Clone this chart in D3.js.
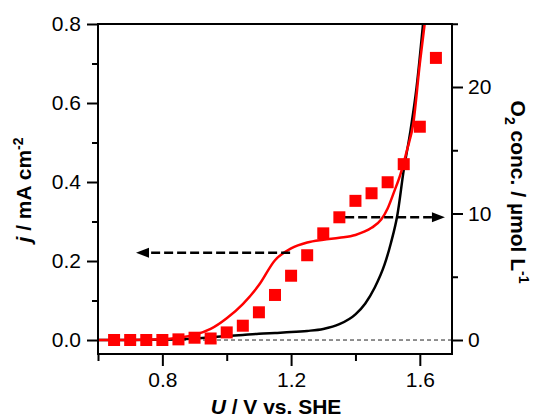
<!DOCTYPE html>
<html>
<head>
<meta charset="utf-8">
<script src="https://cdn.jsdelivr.net/npm/d3@7"></script>
<style>
  html, body { margin: 0; padding: 0; background: #fff; }
  svg { display: block; }
  text { font-family: "Liberation Sans", Arial, Helvetica, sans-serif; fill: #000; }
</style>
</head>
<body>
<svg id="chart" width="536" height="420"></svg>
<script>
// ---- data ----
// Black curve (current density, left axis)
const blackU = [0.60, 0.70, 0.80, 0.85, 0.90, 0.95, 1.00, 1.05, 1.10, 1.15, 1.20, 1.25, 1.30, 1.35, 1.40, 1.43, 1.46, 1.49, 1.51, 1.53, 1.55, 1.57, 1.59, 1.61];
const blackJ = [0.000, 0.000, 0.001, 0.002, 0.004, 0.007, 0.010, 0.013, 0.016, 0.018, 0.020, 0.023, 0.028, 0.040, 0.065, 0.092, 0.133, 0.190, 0.245, 0.315, 0.430, 0.525, 0.640, 0.800];
// Red curve (current density, left axis)
const redU = [0.60, 0.70, 0.80, 0.85, 0.90, 0.95, 1.00, 1.05, 1.10, 1.15, 1.20, 1.25, 1.30, 1.35, 1.40, 1.45, 1.48, 1.50, 1.52, 1.54, 1.56, 1.58, 1.60, 1.615];
const redJ = [0.000, 0.000, 0.002, 0.006, 0.013, 0.028, 0.055, 0.091, 0.139, 0.202, 0.232, 0.247, 0.254, 0.259, 0.266, 0.284, 0.305, 0.333, 0.375, 0.420, 0.480, 0.550, 0.700, 0.800];
// Red squares (O2 concentration, right axis)
const o2U = [0.65, 0.70, 0.75, 0.80, 0.85, 0.90, 0.95, 1.00, 1.05, 1.10, 1.15, 1.20, 1.25, 1.30, 1.35, 1.40, 1.45, 1.50, 1.55, 1.60, 1.65];
const o2C = [0.0, 0.0, 0.0, 0.0, 0.05, 0.18, 0.12, 0.6, 1.13, 2.19, 3.56, 5.08, 6.70, 8.43, 9.70, 11.0, 11.6, 12.47, 13.9, 16.86, 22.3];
// Tick values
const xMajor = [0.8, 1.2, 1.6];
const xMinor = [0.6, 1.0, 1.4];
const yMajor = [0.0, 0.2, 0.4, 0.6, 0.8];
const yMinor = [0.1, 0.3, 0.5, 0.7];
const y2Major = [0, 10, 20];
const y2Minor = [5, 15, 25];
// Annotation arrows (data units)
const arrowLeftU = [1.197, 0.718];   const arrowLeftJ = 0.221;
const arrowRightU = [1.368, 1.678];  const arrowRightC = 9.7;

// ---- layout ----
const svg = d3.select("#chart");
const L = 98, R = 452, T = 24, B = 354;

const x = d3.scaleLinear().domain([0.6, 1.7]).range([L, R]);
const y = d3.scaleLinear().domain([-0.0354, 0.8]).range([B, T]);
const y2 = d3.scaleLinear().domain([-1.107, 24.98]).range([B, T]);

const FONT = 21;

// clip
svg.append("defs").append("clipPath").attr("id", "clip")
  .append("rect").attr("x", L).attr("y", T).attr("width", R - L).attr("height", B - T);

// zero dashed line
svg.append("line")
  .attr("x1", L).attr("x2", R).attr("y1", y(0)).attr("y2", y(0))
  .attr("stroke", "#222").attr("stroke-width", 1).attr("stroke-dasharray", "4,3");

const plot = svg.append("g").attr("clip-path", "url(#clip)");

const line = d3.line().curve(d3.curveMonotoneX);

plot.append("path")
  .attr("d", line(blackU.map((u, i) => [x(u), y(blackJ[i])])))
  .attr("fill", "none").attr("stroke", "#000").attr("stroke-width", 2.5);

plot.append("path")
  .attr("d", line(redU.map((u, i) => [x(u), y(redJ[i])])))
  .attr("fill", "none").attr("stroke", "#ff0000").attr("stroke-width", 2.5);

// squares
const S = 12;
svg.append("g").selectAll("rect").data(o2U).join("rect")
  .attr("x", (d) => x(d) - S / 2)
  .attr("y", (d, i) => y2(o2C[i]) - S / 2)
  .attr("width", S).attr("height", S)
  .attr("fill", "#ff0000");

// arrows
function dashedArrow(x1, x2, yy) {
  const dir = Math.sign(x2 - x1);
  const head = 13, hw = 5;
  svg.append("line")
    .attr("x1", x1).attr("x2", x2 - dir * head).attr("y1", yy).attr("y2", yy)
    .attr("stroke", "#000").attr("stroke-width", 2.5).attr("stroke-dasharray", "9,4");
  svg.append("path")
    .attr("d", `M${x2},${yy} L${x2 - dir * head},${yy - hw} L${x2 - dir * head},${yy + hw} Z`)
    .attr("fill", "#000");
}
dashedArrow(x(arrowLeftU[0]), x(arrowLeftU[1]), y(arrowLeftJ));
dashedArrow(x(arrowRightU[0]), x(arrowRightU[1]), y2(arrowRightC));

// frame
svg.append("rect").attr("x", L).attr("y", T).attr("width", R - L).attr("height", B - T)
  .attr("fill", "none").attr("stroke", "#000").attr("stroke-width", 2);

function styleAxis(g) {
  g.select(".domain").remove();
  g.selectAll(".tick line").attr("stroke", "#000").attr("stroke-width", 2);
  g.selectAll(".tick text").attr("font-size", FONT).attr("font-family", "Liberation Sans, Arial, sans-serif").attr("fill", "#000");
}

// bottom axis
svg.append("g").attr("transform", `translate(0,${B})`)
  .call(d3.axisBottom(x).tickValues(xMajor).tickFormat(d3.format(".1f")).tickSize(12).tickPadding(6))
  .call(styleAxis);
svg.append("g").attr("transform", `translate(0,${B})`)
  .call(d3.axisBottom(x).tickValues(xMinor).tickFormat("").tickSize(7))
  .call(styleAxis);

// left axis
svg.append("g").attr("transform", `translate(${L},0)`)
  .call(d3.axisLeft(y).tickValues(yMajor).tickFormat(d3.format(".1f")).tickSize(11).tickPadding(6))
  .call(styleAxis);
svg.append("g").attr("transform", `translate(${L},0)`)
  .call(d3.axisLeft(y).tickValues(yMinor).tickFormat("").tickSize(6))
  .call(styleAxis);

// right axis
svg.append("g").attr("transform", `translate(${R},0)`)
  .call(d3.axisRight(y2).tickValues(y2Major).tickFormat(d3.format("d")).tickSize(11).tickPadding(5))
  .call(styleAxis);
svg.append("g").attr("transform", `translate(${R},0)`)
  .call(d3.axisRight(y2).tickValues(y2Minor).tickFormat("").tickSize(6))
  .call(styleAxis);

// axis titles
const yl = svg.append("text")
  .attr("transform", "translate(31,190) rotate(-90)")
  .attr("text-anchor", "middle").attr("font-size", FONT).attr("font-weight", "bold");
yl.append("tspan").attr("font-style", "italic").text("j");
yl.append("tspan").text(" / mA cm");
yl.append("tspan").attr("font-size", 14).attr("dy", -8).text("-2");

const xl = svg.append("text")
  .attr("x", 276).attr("y", 414)
  .attr("text-anchor", "middle").attr("font-size", FONT).attr("font-weight", "bold");
xl.append("tspan").attr("font-style", "italic").text("U");
xl.append("tspan").text(" / V vs. SHE");

const rl = svg.append("text")
  .attr("transform", "translate(511,192) rotate(90)")
  .attr("text-anchor", "middle").attr("font-size", FONT).attr("font-weight", "bold");
rl.append("tspan").text("O");
rl.append("tspan").attr("font-size", 14).attr("dy", 6).text("2");
rl.append("tspan").attr("dy", -6).text(" conc. / µmol L");
rl.append("tspan").attr("font-size", 14).attr("dy", -8).text("-1");
</script>
</body>
</html>
